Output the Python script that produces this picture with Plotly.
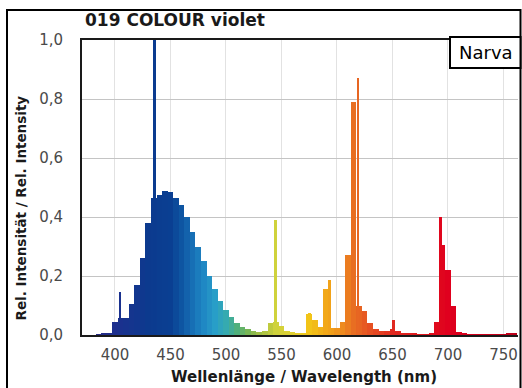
import plotly.graph_objects as go

# ---- data ----
wavelengths = list(range(380, 765, 5))
intensity = [
    0.000, 0.002, 0.004, 0.005, 0.045, 0.059, 0.059, 0.105, 0.170, 0.260,  # 380-425
    0.380, 0.465, 0.475, 0.487, 0.485, 0.465, 0.440, 0.400, 0.350, 0.300,  # 430-475
    0.250, 0.200, 0.155, 0.115, 0.085, 0.060, 0.040, 0.028, 0.020, 0.015,  # 480-525
    0.011, 0.015, 0.040, 0.045, 0.030, 0.012, 0.010, 0.008, 0.005, 0.072,  # 530-575
    0.050, 0.028, 0.155, 0.023, 0.023, 0.045, 0.272, 0.790, 0.100, 0.080,  # 580-625
    0.040, 0.022, 0.012, 0.015, 0.020, 0.015, 0.007, 0.006, 0.004, 0.002,  # 630-675
    0.003, 0.006, 0.045, 0.306, 0.220, 0.100, 0.010, 0.004, 0.003, 0.003,  # 680-725
    0.003, 0.003, 0.003, 0.003, 0.003, 0.004, 0.007,                       # 730-760
]
spike_wl = [404.5, 435.5, 545.0, 575.0, 593.0, 619.0, 651.0, 693.5]
spike_int = [0.145, 1.000, 0.390, 0.075, 0.185, 0.870, 0.050, 0.400]

x_ticks = [400, 450, 500, 550, 600, 650, 700, 750]
y_ticks = [0.0, 0.2, 0.4, 0.6, 0.8, 1.0]
y_ticktext = ["0,0", "0,2", "0,4", "0,6", "0,8", "1,0"]

title = "019 COLOUR violet"
x_title = "Wellenlänge / Wavelength (nm)"
y_title = "Rel. Intensität / Rel. Intensity"
brand = "Narva"

# ---- spectral colour scale ----
WL_MIN, WL_MAX = 380, 780
anchors = [
    (380, "#2a2a80"), (400, "#1d2f8e"), (430, "#0c3a8e"), (450, "#0a3f92"),
    (460, "#0e55a2"), (470, "#176fb5"), (480, "#1f88c4"), (490, "#289ec8"),
    (500, "#35aab0"), (510, "#4fb07c"), (520, "#78b655"), (530, "#a0be45"),
    (545, "#cfd23c"), (560, "#e0d030"), (575, "#f2c418"), (590, "#f2a818"),
    (605, "#ee8a1e"), (615, "#e86e22"), (630, "#e65022"), (650, "#e02a20"),
    (680, "#e0141c"), (700, "#e0001e"), (780, "#b00018"),
]
colorscale = [[(w - WL_MIN) / (WL_MAX - WL_MIN), c] for w, c in anchors]

FONT = "DejaVu Sans"

fig = go.Figure()
fig.add_trace(go.Bar(
    x=wavelengths, y=intensity, width=5,
    marker=dict(color=wavelengths, colorscale=colorscale, cmin=WL_MIN, cmax=WL_MAX,
                line=dict(width=0)),
    showlegend=False, hoverinfo="x+y",
))
fig.add_trace(go.Bar(
    x=spike_wl, y=spike_int, width=2.6,
    marker=dict(color=spike_wl, colorscale=colorscale, cmin=WL_MIN, cmax=WL_MAX,
                line=dict(width=0)),
    showlegend=False, hoverinfo="x+y",
))

L, R, T, B = 82, 4, 40, 53
W, H = 522, 388
pw, ph = W - L - R, H - T - B


def px(xp):
    return (xp - L) / pw


def py(yp):
    return (H - B - yp) / ph


fig.update_layout(
    width=W, height=H,
    margin=dict(l=L, r=R, t=T, b=B, pad=0),
    paper_bgcolor="white", plot_bgcolor="white",
    barmode="overlay", bargap=0,
    font=dict(family=FONT, color="#444"),
    xaxis=dict(
        range=[370.3, 763.1], tickvals=x_ticks, ticks="",
        tickfont=dict(family=FONT, size=15, color="#4a4a4a"),
        ticklabelstandoff=5,
        showgrid=True, gridcolor="#e2e2e2", gridwidth=1,
        showline=True, linecolor="#1a1a1a", linewidth=2, mirror=True,
        zeroline=False, fixedrange=True,
    ),
    yaxis=dict(
        range=[0, 1.0], tickvals=y_ticks, ticktext=y_ticktext, ticks="",
        tickfont=dict(family=FONT, size=15, color="#4a4a4a"),
        ticklabelstandoff=14,
        showgrid=True, gridcolor="#c4c4c4", gridwidth=1,
        showline=True, linecolor="#1a1a1a", linewidth=2,
        zeroline=False, fixedrange=True,
    ),
    shapes=[
        dict(type="rect", xref="paper", yref="paper",
             x0=px(7), x1=px(520.5), y0=py(396), y1=py(10),
             line=dict(color="black", width=2), fillcolor="rgba(0,0,0,0)", layer="above"),
        dict(type="rect", xref="paper", yref="paper",
             x0=px(450), x1=px(520.5), y0=py(68), y1=py(37),
             line=dict(color="black", width=2), fillcolor="white", layer="above"),
    ],
    annotations=[
        dict(text=title, xref="paper", yref="paper", x=px(83), y=py(20),
             xanchor="left", yanchor="middle", showarrow=False,
             font=dict(family=FONT, size=17, color="#1a1a1a", weight="bold")),
        dict(text=brand, xref="paper", yref="paper", x=px(485.5), y=py(52.5),
             xanchor="center", yanchor="middle", showarrow=False,
             font=dict(family=FONT, size=18, color="black")),
        dict(text=x_title, xref="paper", yref="paper", x=px(304), y=py(377),
             xanchor="center", yanchor="middle", showarrow=False,
             font=dict(family=FONT, size=15, color="#1a1a1a", weight="bold")),
        dict(text=y_title, xref="paper", yref="paper", x=px(20), y=py(208.5),
             xanchor="center", yanchor="middle", showarrow=False, textangle=-90,
             font=dict(family=FONT, size=13.5, color="#1a1a1a", weight="bold")),
    ],
)

fig.write_html(
    "out.html",
    config={"displayModeBar": False},
    post_script="document.body.style.margin='0';document.body.style.padding='0';"
                "document.documentElement.style.overflow='hidden';",
)
